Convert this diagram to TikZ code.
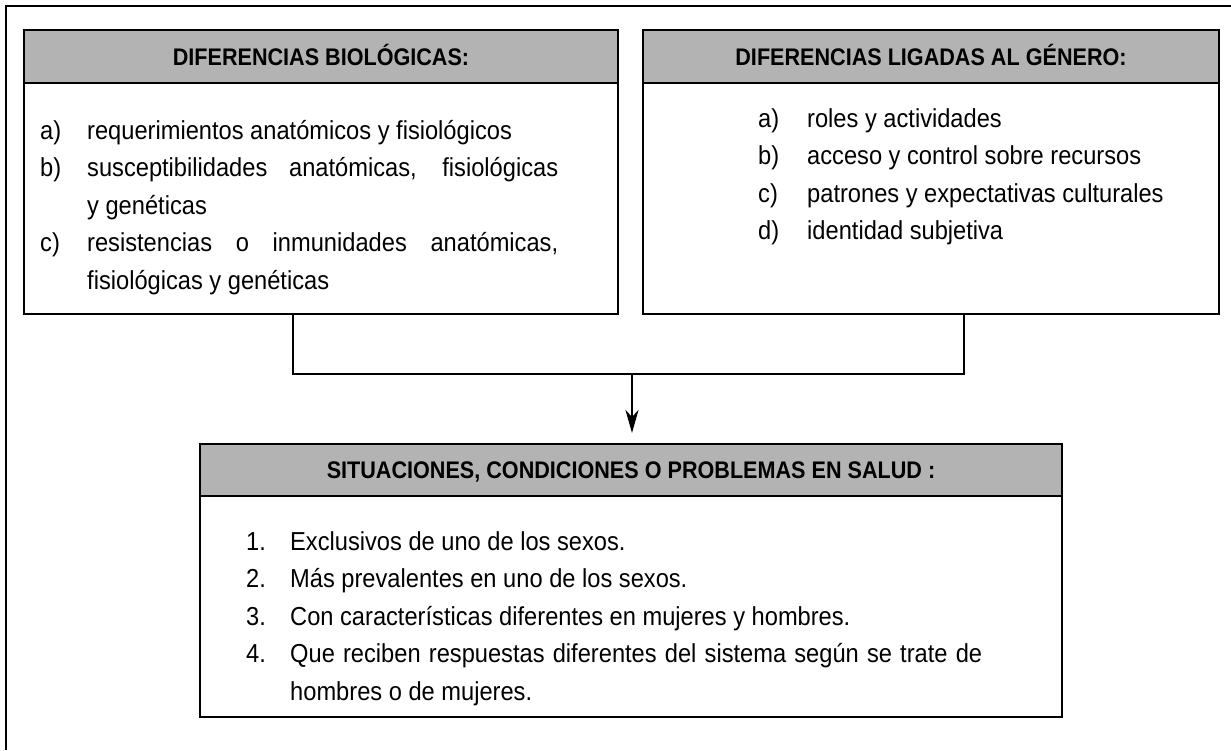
\documentclass[tikz,border=0pt]{standalone}
\usepackage{fontspec}
\setmainfont{Liberation Sans}
\newfontfamily\cuerpo{Liberation Sans}[FakeStretch=0.91]
\newfontfamily\cabeza{Liberation Sans}[FakeStretch=0.9]
\usepackage{tikz}
\usetikzlibrary{shapes}
\usetikzlibrary{arrows.meta}
\usetikzlibrary{positioning}

\definecolor{grisCab}{RGB}{179,179,179}

\begin{document}
\begin{tikzpicture}[x=1pt,y=-1pt]
\tikzstyle{cabecera}=[rectangle,draw=black,fill=grisCab,line width=1.6pt,
inner sep=0pt,outer sep=0pt,minimum height=53pt,text height=17pt,text depth=0pt,
font=\cabeza\bfseries\fontsize{24}{28}\selectfont]
\tikzstyle{cuerpo}=[rectangle,draw=black,line width=1.6pt,
inner sep=0pt,outer sep=0pt]
\tikzstyle{fila}=[inner sep=0pt,anchor=base west,
font=\cuerpo\fontsize{26}{37.5}\selectfont]
\tikzstyle{conector}=[line width=2.4pt]

\useasboundingbox (0,0) rectangle (1231,750);
\draw[line width=1.2pt] (6,750) -- (6,6) -- (1231,6);

\node[cabecera,minimum width=594pt] (bioHead) at (321,56.5) {DIFERENCIAS BIOLÓGICAS:};
\node[cuerpo,minimum width=594pt,minimum height=231pt,below=0pt of bioHead] (bioBody) {};
\node[fila] (bioLa) at (40,139) {a)};
\node[fila] (bioTa) at (87,139) {requerimientos anatómicos y fisiológicos};
\node[fila] (bioLb) at (40,176.5) {b)};
\node[fila] (bioTb) at (87,176.5) {\makebox[471pt][s]{susceptibilidades anatómicas, fisiológicas}};
\node[fila] (bioTbb) at (87,214) {y genéticas};
\node[fila] (bioLc) at (40,251.5) {c)};
\node[fila] (bioTc) at (87,251.5) {\makebox[471pt][s]{resistencias o inmunidades anatómicas,}};
\node[fila] (bioTcc) at (87,289) {fisiológicas y genéticas};

\node[cabecera,minimum width=576pt] (genHead) at (931,56.5) {DIFERENCIAS LIGADAS AL GÉNERO:};
\node[cuerpo,minimum width=576pt,minimum height=231pt,below=0pt of genHead] (genBody) {};
\foreach \etq/\txt [count=\i from 0] in {a)/roles y actividades,
  b)/acceso y control sobre recursos,
  c)/patrones y expectativas culturales,
  d)/identidad subjetiva} {
  \node[fila] (genL\i) at (758,{127+37.5*\i}) {\etq};
  \node[fila] (genT\i) at (807,{127+37.5*\i}) {\txt};
}

\node[cabecera,minimum width=862pt,minimum height=52pt] (salHead) at (631,470) {SITUACIONES, CONDICIONES O PROBLEMAS EN SALUD :};
\node[cuerpo,minimum width=862pt,minimum height=221pt,below=0pt of salHead] (salBody) {};
\foreach \etq/\txt [count=\i from 0] in {1./Exclusivos de uno de los sexos.,
  2./Más prevalentes en uno de los sexos.,
  3./Con características diferentes en mujeres y hombres.} {
  \node[fila] (salL\i) at (246,{550+37.5*\i}) {\etq};
  \node[fila] (salT\i) at (290,{550+37.5*\i}) {\txt};
}
\node[fila] (salL3) at (246,662.5) {4.};
\node[fila] (salT3) at (290,662.5) {\makebox[692pt][s]{Que reciben respuestas diferentes del sistema según se trate de}};
\node[fila] (salT4) at (290,700) {hombres o de mujeres.};

\coordinate (bioPie) at ([xshift=-28pt]bioBody.south);
\coordinate (genPie) at ([xshift=33pt]genBody.south);
\coordinate (union) at (632,374);
\draw[conector] (bioPie) |- (union) -| (genPie);
\draw[conector,-{Stealth[length=23pt,width=13pt,inset=7pt]}] (union) -- ([yshift=11pt]salHead.north -| union);
\end{tikzpicture}
\end{document}
